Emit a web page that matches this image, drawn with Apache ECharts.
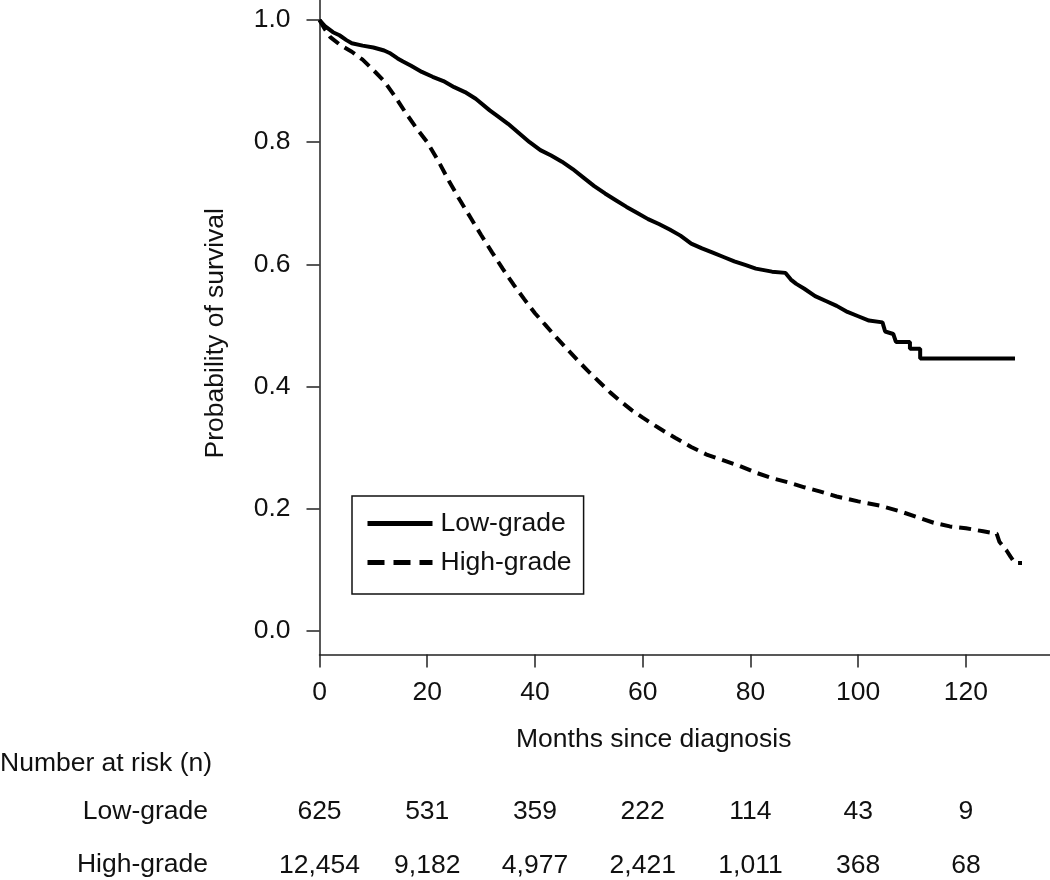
<!DOCTYPE html>
<html><head><meta charset="utf-8">
<script src="https://cdn.jsdelivr.net/npm/echarts@6/dist/echarts.min.js"></script>
<style>html,body{margin:0;padding:0;background:#fff}#c{width:1050px;height:880px}</style>
</head><body><div id="c"></div>
<script>
// Low-grade Kaplan-Meier estimate (months, survival)
const lowMonths = [0,1,2.5,3.7,5,6,8,10,12,13,14.5,15.5,17,19,21,23,25,27,29,31.6,33,35,37,39,41,43,45,47,49,51,53,55,57,59,61,63,65,67,69,71,73,75,77,79,81,84,86.5,87.5,88.5,90,92,94,96,98,100,102,104.5,105,106.5,107,109.6,109.6,111.5,111.5,129.1];
const lowSurv   = [1.0,0.99,0.98,0.975,0.967,0.962,0.958,0.955,0.95,0.946,0.937,0.932,0.925,0.915,0.907,0.9,0.89,0.882,0.871,0.852,0.843,0.83,0.815,0.8,0.787,0.778,0.768,0.756,0.742,0.728,0.716,0.705,0.694,0.684,0.674,0.666,0.657,0.647,0.634,0.626,0.619,0.612,0.605,0.599,0.593,0.588,0.586,0.575,0.568,0.56,0.548,0.54,0.532,0.522,0.515,0.508,0.505,0.49,0.486,0.473,0.473,0.462,0.462,0.446,0.446];
// High-grade Kaplan-Meier estimate
const highMonths = [0,1,2,4,6,8,10,12,14,16,18,20,22,24,26,28,30,32,34,36,38,40,42,44,46,48,50,52,54,56,58,60,63,66,69,72,75,78,81,84,87,90,93,96,100,104,108,111,114,117,120,123.2,125.7,126.2,127.5,128.3,129.1,130.4];
const highSurv   = [1.0,0.985,0.972,0.958,0.948,0.935,0.918,0.9,0.875,0.848,0.823,0.8,0.77,0.737,0.706,0.677,0.648,0.62,0.593,0.567,0.543,0.52,0.5,0.48,0.461,0.442,0.424,0.407,0.39,0.375,0.361,0.349,0.332,0.316,0.301,0.288,0.279,0.27,0.259,0.25,0.243,0.235,0.228,0.22,0.212,0.205,0.195,0.186,0.177,0.171,0.168,0.163,0.159,0.146,0.132,0.121,0.111,0.111];
// Axis ticks and number at risk
const xTicks = [0,20,40,60,80,100,120];
const yTicks = [0,0.2,0.4,0.6,0.8,1.0];
const riskMonths = [0,20,40,60,80,100,120];
const lowRisk  = [625,531,359,222,114,43,9];
const highRisk = [12454,9182,4977,2421,1011,368,68];
const riskRows = ['Low-grade','High-grade'];

const FONT = '"Liberation Sans", Arial, Helvetica, sans-serif';
const FS = 26.5;
const TXT = '#111';
const chart = echarts.init(document.getElementById('c'), null, {renderer:'canvas'});
const xMin = 0, xMax = 135.6;
const riskAxis = (vals, off) => ({
  type:'value', gridIndex:0, min:xMin, max:xMax, position:'bottom', offset:off,
  axisLine:{show:false}, axisTick:{show:false}, splitLine:{show:false},
  axisLabel:{customValues:riskMonths, margin:0, verticalAlign:'middle', fontSize:FS, fontFamily:FONT, color:TXT,
    formatter:v=>{const i=riskMonths.indexOf(v);return i<0?'':vals[i].toLocaleString('en-US');}}
});
const rowText = (txt, x, y, align) => ({type:'text', x:x, y:y, silent:true,
  style:{text:txt, fontSize:FS, fontFamily:FONT, fill:TXT, align:align, verticalAlign:'middle'}});
chart.setOption({
  animation:false,
  backgroundColor:'#fff',
  grid:{left:319.5, top:0, right:0, bottom:225.5, containLabel:false},
  xAxis:[{
    type:'value', min:xMin, max:xMax,
    axisLine:{show:true, onZero:false, lineStyle:{color:'#222', width:1.5}},
    axisTick:{show:true, length:13, customValues:xTicks, lineStyle:{color:'#222', width:1.5}},
    axisLabel:{customValues:xTicks, margin:25, fontSize:FS, fontFamily:FONT, color:TXT},
    splitLine:{show:false},
    name:'Months since diagnosis', nameLocation:'middle', nameGap:72,
    nameTextStyle:{fontSize:FS, fontFamily:FONT, color:TXT, padding:[0,62,0,0]}
  },
  riskAxis(lowRisk, 157.5),
  riskAxis(highRisk, 211)
  ],
  yAxis:{
    type:'value', min:-0.0387, max:1.0327,
    axisLine:{show:true, onZero:false, lineStyle:{color:'#222', width:1.5}},
    axisTick:{show:true, length:13, customValues:yTicks, lineStyle:{color:'#222', width:1.5}},
    axisLabel:{customValues:yTicks, margin:29, fontSize:FS, fontFamily:FONT, color:TXT, formatter:v=>v.toFixed(1)},
    splitLine:{show:false},
    name:'Probability of survival', nameLocation:'middle', nameGap:90,
    nameTextStyle:{fontSize:FS, fontFamily:FONT, color:TXT, padding:[0,12,0,0]}
  },
  legend:{
    orient:'vertical', left:352, top:496,
    data:[{name:'Low-grade'},{name:'High-grade', lineStyle:{type:[17,9]}}],
    borderColor:'#111', borderWidth:1.5, borderRadius:0,
    padding:[14,12,18,13], itemGap:12, itemWidth:65, itemHeight:20,
    lineStyle:{width:5},
    itemStyle:{color:'rgba(0,0,0,0)', borderColor:'rgba(0,0,0,0)', borderWidth:0, opacity:0},
    textStyle:{fontSize:FS, fontFamily:FONT, color:TXT, padding:[0,0,0,3]}
  },
  graphic:[
    rowText('Number at risk (n)', 0, 764, 'left'),
    rowText(riskRows[0], 208, 811.5, 'right'),
    rowText(riskRows[1], 208, 865, 'right')
  ],
  series:[
    {name:'Low-grade', type:'line', showSymbol:false, symbol:'none',
     data:lowMonths.map((t,i)=>[t,lowSurv[i]]),
     lineStyle:{color:'#000', width:4}, itemStyle:{color:'#000'}},
    {name:'High-grade', type:'line', showSymbol:false, symbol:'none',
     data:highMonths.map((t,i)=>[t,highSurv[i]]),
     lineStyle:{color:'#000', width:4, type:[12,7]}, itemStyle:{color:'#000'}}
  ]
});
</script>
</body></html>
